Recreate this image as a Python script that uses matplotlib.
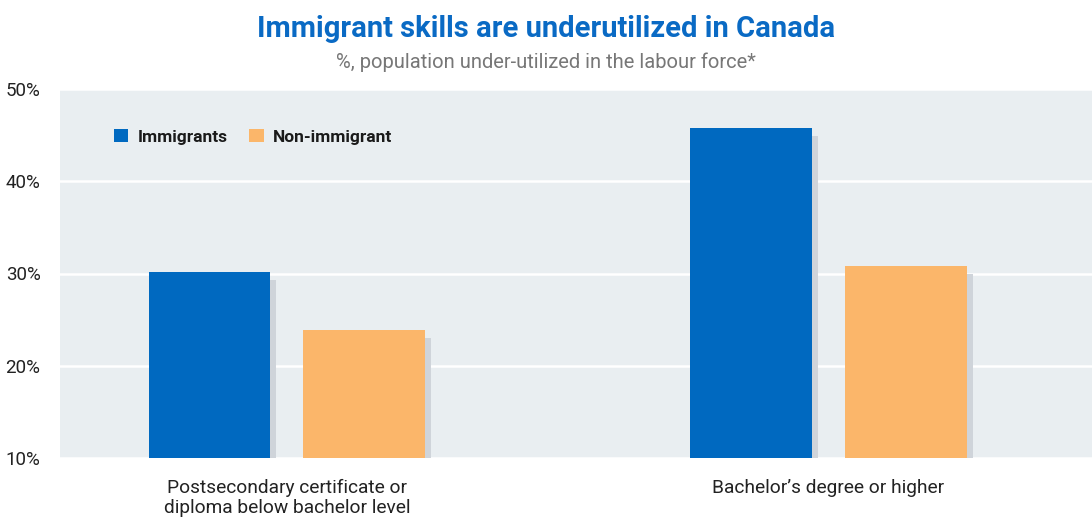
import matplotlib
matplotlib.use("Agg")
import matplotlib.pyplot as plt
import matplotlib.transforms as mtransforms
import numpy as np

plt.rcParams['font.family'] = ['Roboto', 'DejaVu Sans']

categories = ["Postsecondary certificate or\ndiploma below bachelor level",
              "Bachelor\u2019s degree or higher"]
immigrants = [30.2, 45.8]
non_immigrant = [23.9, 30.8]
series_names = ["Immigrants", "Non-immigrant"]
yticks = [10, 20, 30, 40, 50]
ytick_labels = ["10%", "20%", "30%", "40%", "50%"]

blue = "#0069c0"
orange = "#fbb66a"
shadow = "#cfd4da"
bg = "#e9eef1"

W, H = 1092, 518
fig = plt.figure(figsize=(W / 100, H / 100), dpi=100)
ax = fig.add_axes([60 / W, (H - 458) / H, (W - 60) / W, (458 - 89) / H])
ax.set_facecolor(bg)

x = np.arange(len(categories))
width = 0.225
off = 0.143

# soft drop shadows: same bars, nudged right and down
shadow_tf = mtransforms.offset_copy(ax.transData, fig=fig, x=6, y=-8, units='dots')
for vals, dx in ((immigrants, -off), (non_immigrant, off)):
    sb = ax.bar(x + dx, vals, width, bottom=0, color=shadow, zorder=2)
    for p in sb:
        p.set_transform(shadow_tf)

ax.bar(x - off, immigrants, width, color=blue, zorder=3, label=series_names[0])
ax.bar(x + off, non_immigrant, width, color=orange, zorder=3, label=series_names[1])

ax.set_xlim(-0.419, 1.487)
ax.set_ylim(10, 50)
ax.set_yticks(yticks)
ax.set_yticklabels(ytick_labels, fontsize=13.5, color="#222222")
ax.yaxis.grid(True, color="white", linewidth=1.8, zorder=1)
ax.set_axisbelow(True)
ax.tick_params(axis='y', length=0, pad=14)
ax.tick_params(axis='x', length=0, pad=15)
ax.set_xticks(x)
ax.set_xticklabels(categories, fontsize=13.8, color="#222222", linespacing=1.15)
for s in ax.spines.values():
    s.set_visible(False)

leg = ax.legend(loc='upper left', bbox_to_anchor=(38 / (W - 60), 1 - 24 / (458 - 89)),
                ncol=2, frameon=False, handlelength=0.85, handleheight=0.85,
                handletextpad=0.55, columnspacing=1.2,
                prop={'weight': 'bold', 'size': 12.5})
for t in leg.get_texts():
    t.set_color("#1a1a1a")

fig.text(0.5, 1 - 29 / H, "Immigrant skills are underutilized in Canada",
         ha='center', va='center', fontsize=21, fontweight='bold', color="#0a6ac4")
fig.text(0.5, 1 - 62 / H, "%, population under-utilized in the labour force*",
         ha='center', va='center', fontsize=14.5, color="#777777")

fig.savefig("out.png", dpi=100, facecolor="white")
